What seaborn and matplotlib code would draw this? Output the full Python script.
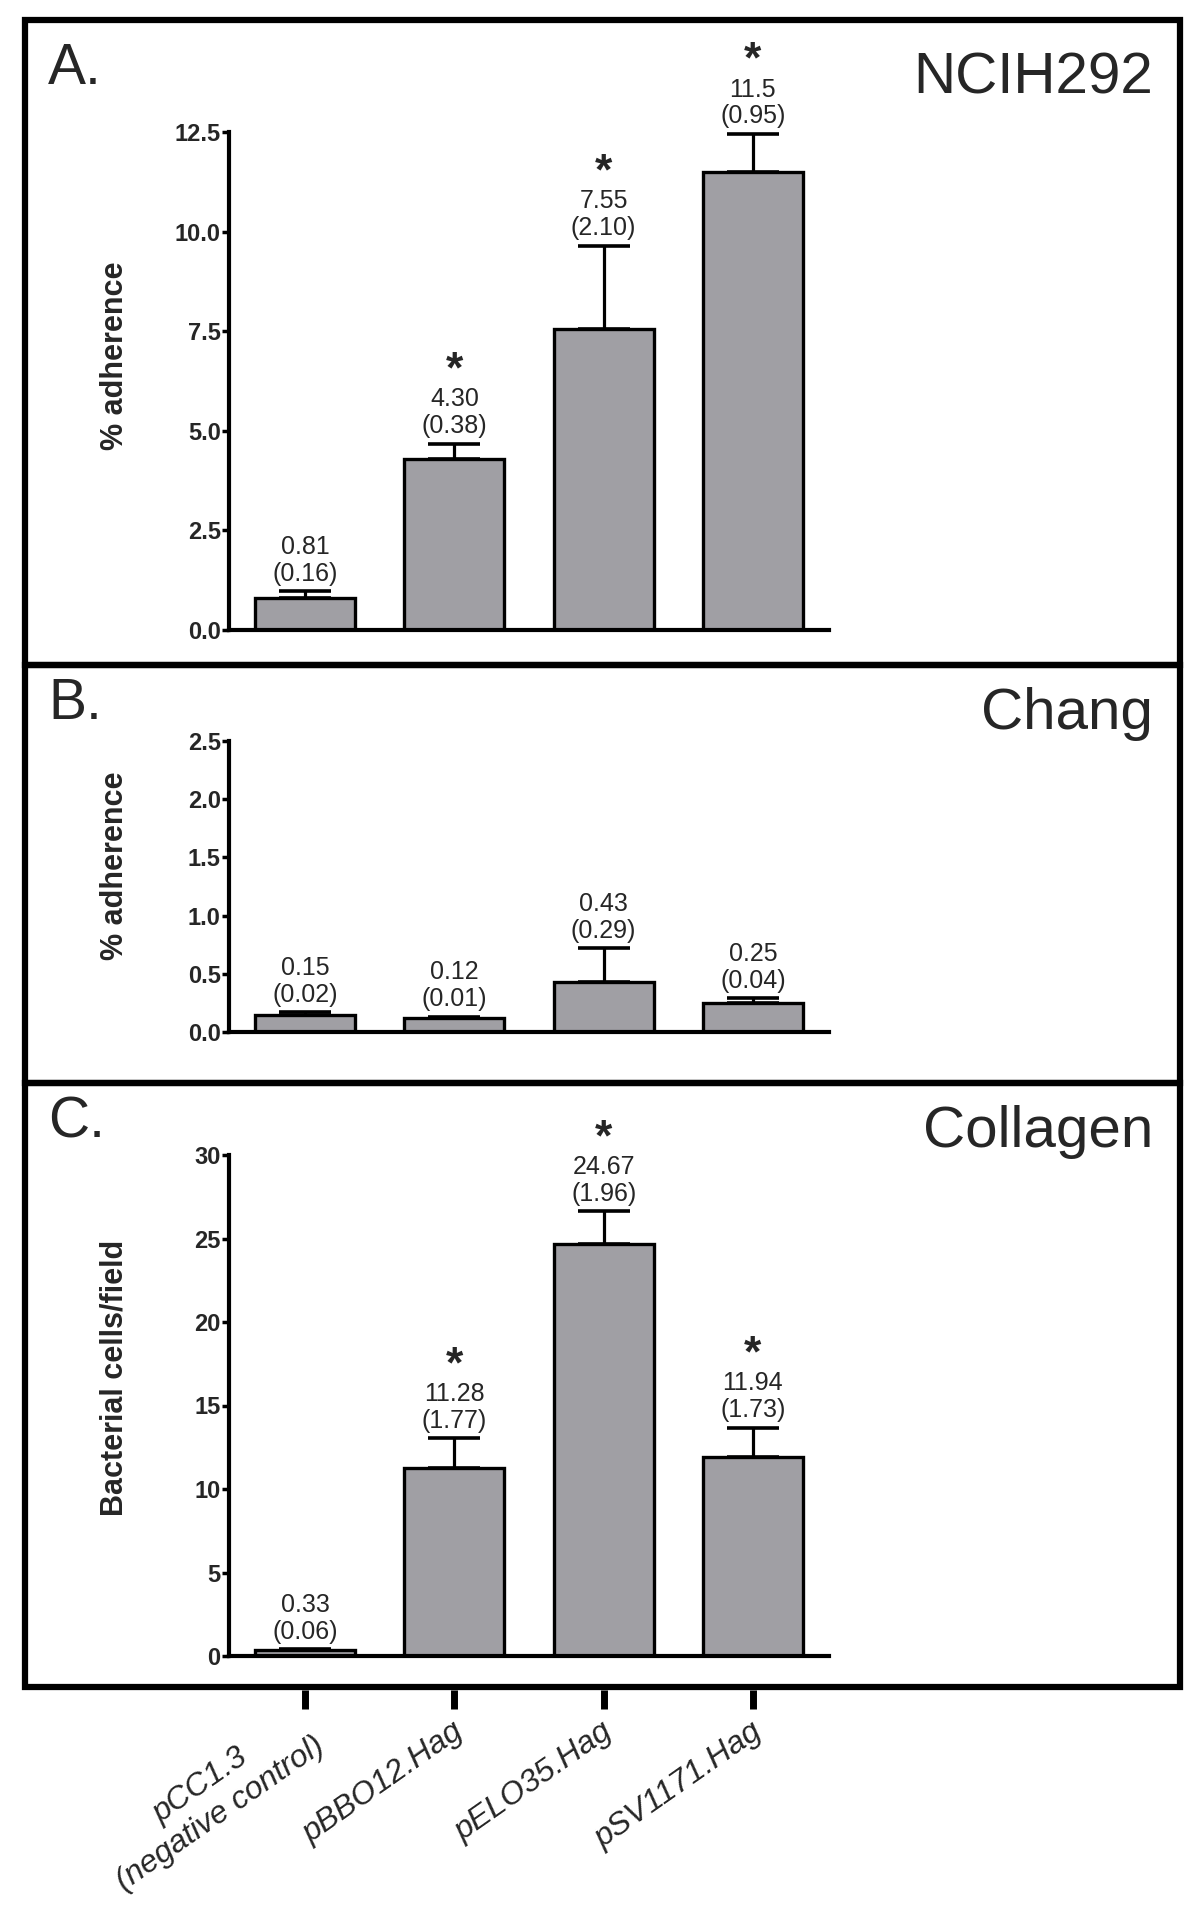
import matplotlib
matplotlib.use('Agg')
import matplotlib.pyplot as plt
import matplotlib.patches as mpatches
from matplotlib.transforms import ScaledTranslation
import seaborn as sns
import numpy as np


strains = ['pCC1.3\n(negative control)', 'pBBO12.Hag', 'pELO35.Hag', 'pSV1171.Hag']

# A. NCIH292
ncih_mean = [0.81, 4.30, 7.55, 11.5]
ncih_sem = [0.16, 0.38, 2.10, 0.95]
ncih_text = ['0.81', '4.30', '7.55', '11.5']
ncih_star = [False, True, True, True]

# B. Chang
chang_mean = [0.15, 0.12, 0.43, 0.25]
chang_sem = [0.02, 0.01, 0.29, 0.04]
chang_text = ['0.15', '0.12', '0.43', '0.25']
chang_star = [False, False, False, False]

# C. Collagen
coll_mean = [0.33, 11.28, 24.67, 11.94]
coll_sem = [0.06, 1.77, 1.96, 1.73]
coll_text = ['0.33', '11.28', '24.67', '11.94']
coll_star = [False, True, True, True]


sns.set_style('ticks')
plt.rcParams['font.family'] = ['Liberation Sans', 'DejaVu Sans']

W, H = 1200, 1916
fig = plt.figure(figsize=(W / 100, H / 100), dpi=100)

bar_color = '#a09fa4'
ax_left = 229 / W
ax_width = 600 / W


def fy(px):
    return 1 - px / H


def panel(top_px, bot_px, mean, sem, text, star, ylim, yticks, fmt, ylabel, label_y):
    ax = fig.add_axes([ax_left, fy(bot_px), ax_width, (bot_px - top_px) / H])
    df_x = list(range(len(mean)))
    sns.barplot(x=df_x, y=mean, color=bar_color, saturation=1, edgecolor='black',
                linewidth=2.4, width=0.67, errorbar=None, ax=ax, zorder=2)
    ax.errorbar(df_x, mean, yerr=[np.zeros(len(sem)), sem], fmt='none', ecolor='black',
                elinewidth=2.3, capsize=18.5, capthick=2.6, zorder=3)
    for i in range(len(mean)):
        top = mean[i] + sem[i]
        ax.annotate(f'{text[i]}\n({sem[i]:.2f})', xy=(i, top), xytext=(0, 4),
                    textcoords='offset points', ha='center', va='bottom',
                    fontsize=18, linespacing=1.15, annotation_clip=False)
        if star[i]:
            ax.annotate('*', xy=(i, top), xytext=(0, 44), textcoords='offset points',
                        ha='center', va='baseline', fontsize=32, fontweight='bold',
                        annotation_clip=False)
    ax.set_xlim(-0.51, 3.51)
    ax.set_ylim(*ylim)
    ax.set_yticks(yticks)
    ax.set_yticklabels([fmt.format(t) for t in yticks], fontweight='bold', fontsize=17)
    ax.tick_params(axis='y', length=5, width=2.5, pad=1, color='black')
    ax.tick_params(axis='x', bottom=False, labelbottom=False)
    ax.set_xlabel('')
    ax.set_ylabel(ylabel, fontsize=22, fontweight='bold', va='center')
    ax.yaxis.set_label_coords(-0.19, label_y)
    for s in ['top', 'right']:
        ax.spines[s].set_visible(False)
    for s in ['left', 'bottom']:
        ax.spines[s].set_linewidth(3)
        ax.spines[s].set_color('black')
    ax.patch.set_alpha(0)
    return ax


ax_a = panel(132, 630, ncih_mean, ncih_sem, ncih_text, ncih_star, (0, 12.5),
             [0, 2.5, 5.0, 7.5, 10.0, 12.5], '{:.1f}', '% adherence', 0.55)
ax_b = panel(741, 1032, chang_mean, chang_sem, chang_text, chang_star, (0, 2.5),
             [0, 0.5, 1.0, 1.5, 2.0, 2.5], '{:.1f}', '% adherence', 0.57)
ax_c = panel(1155, 1656, coll_mean, coll_sem, coll_text, coll_star, (0, 30),
             [0, 5, 10, 15, 20, 25, 30], '{:.0f}', 'Bacterial cells/field', 0.555)

# panel frames
edges = [20, 665, 1083, 1687]
for y0, y1 in zip(edges[:-1], edges[1:]):
    fig.add_artist(mpatches.Rectangle((25 / W, fy(y1)), (1180 - 25) / W, (y1 - y0) / H,
                                      fill=False, lw=4.5, edgecolor='black',
                                      transform=fig.transFigure))

# panel letters and names
for letter, name, base in [('A.', 'NCIH292', 90), ('B.', 'Chang', 725), ('C.', 'Collagen', 1143)]:
    fig.text(48 / W, fy(base - 6), letter, fontsize=41, ha='left', va='baseline')
    fig.text(1153 / W, fy(base + 4), name, fontsize=42, ha='right', va='baseline')

# category ticks below the frame
ax_lab = fig.add_axes([ax_left, fy(1690), ax_width, 0.0001])
ax_lab.set_xlim(-0.51, 3.51)
ax_lab.set_xticks(range(len(strains)))
ax_lab.set_xticklabels(strains, rotation=35, ha='right', va='center', rotation_mode='anchor',
                       fontstyle='italic', fontsize=23, multialignment='center')
ax_lab.tick_params(axis='x', length=14, width=5, pad=14, direction='out', color='black')
ax_lab.set_yticks([])
for s in ax_lab.spines.values():
    s.set_visible(False)
ax_lab.patch.set_alpha(0)
for lab in ax_lab.get_xticklabels():
    lab.set_transform(lab.get_transform() + ScaledTranslation(6 / 100, 0, fig.dpi_scale_trans))

fig.savefig('out.png', dpi=100)
